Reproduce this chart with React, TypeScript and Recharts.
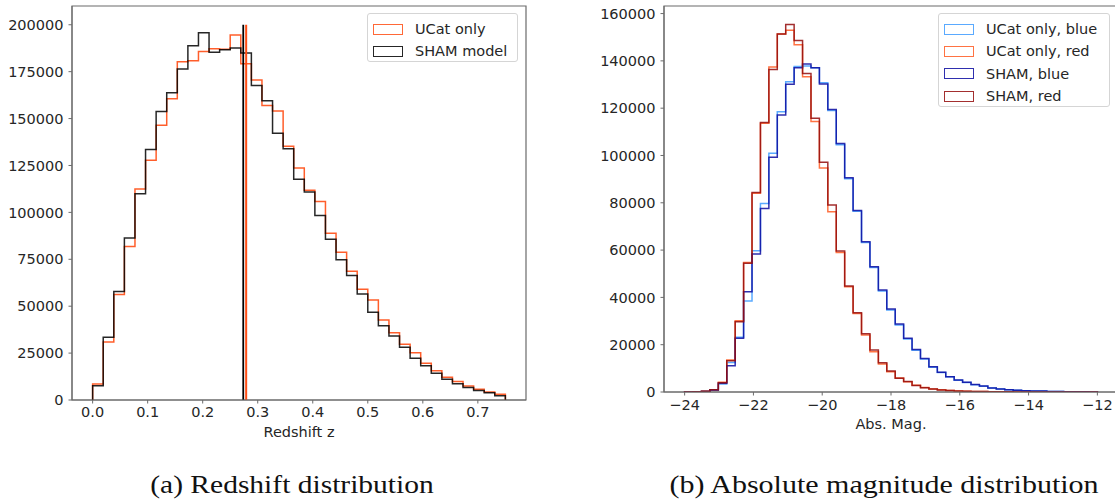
import React from 'react';
import { LineChart, Line, XAxis, YAxis, ReferenceArea } from 'recharts';

// redshift histogram: 39 bins over [0, 0.75]
const zRange = [0, 0.75];
const ucatZ = [8500, 30900, 56200, 81800, 112400, 127800, 146500, 160500, 180300, 180800, 185800, 187200, 187000, 194500, 179200, 170500, 157000, 154100, 135300, 123600, 111800, 105800, 88900, 78700, 68600, 59000, 53300, 42700, 35900, 29700, 25200, 19600, 15600, 12100, 9800, 7500, 5700, 4300, 3000];
const shamZ = [7600, 33400, 57800, 86400, 109900, 133500, 153800, 163700, 176400, 188800, 195700, 185400, 186700, 187600, 184900, 167600, 159500, 142200, 133900, 117700, 110900, 98300, 85700, 74700, 66300, 56500, 46800, 39600, 34100, 28100, 22200, 18300, 14200, 11000, 8700, 6600, 5000, 3900, 2300];
const shamMedian = 0.2737;
const ucatMedian = 0.279;
const medianTop = 200000;

// absolute magnitude histogram: 49 bins over [-24, -12]
const magRange = [-24, -12];
const ucatBlue = [40, 100, 280, 850, 3400, 12500, 23100, 38500, 59700, 79700, 100900, 118500, 131200, 137600, 137800, 137100, 130800, 119000, 104500, 90200, 76400, 63200, 52600, 42700, 34700, 28300, 22400, 17700, 14000, 10500, 8200, 6400, 5000, 4000, 3100, 2450, 1700, 1250, 970, 690, 550, 440, 390, 240, 170, 120, 90, 60, 40];
const ucatRed = [60, 150, 350, 1000, 4100, 13500, 30100, 54700, 84000, 113600, 137400, 151400, 152900, 146800, 133300, 114400, 94700, 76200, 59000, 44500, 33200, 24100, 17000, 11800, 8600, 5900, 4300, 2900, 1900, 1300, 900, 620, 430, 310, 220, 160, 120, 90, 70, 50, 40, 30, 25, 20, 15, 10, 8, 5, 3];
const shamBlue = [30, 80, 250, 800, 3700, 11100, 22700, 42400, 58300, 77600, 99200, 117100, 130100, 137100, 138700, 137100, 130200, 119400, 105100, 90600, 76700, 63500, 53000, 43100, 35100, 28700, 22700, 18000, 14200, 10700, 8300, 6500, 5100, 4100, 3200, 2500, 1700, 1270, 990, 700, 560, 450, 400, 250, 180, 130, 90, 60, 40];
const shamRed = [50, 120, 300, 900, 3900, 13200, 29700, 54400, 84400, 113900, 136400, 151400, 155400, 148600, 134700, 115700, 97100, 79100, 59600, 44800, 33500, 24600, 17800, 12400, 8900, 5800, 4400, 2700, 1800, 1300, 850, 600, 420, 300, 220, 160, 120, 90, 70, 50, 40, 30, 25, 20, 15, 10, 8, 5, 3];

const zTicks = [0, 0.1, 0.2, 0.3, 0.4, 0.5, 0.6, 0.7];
const zCountTicks = [0, 25000, 50000, 75000, 100000, 125000, 150000, 175000, 200000];
const magTicks = [-24, -22, -20, -18, -16, -14, -12];
const magCountTicks = [0, 20000, 40000, 60000, 80000, 100000, 120000, 140000, 160000];

// outline of a step histogram, like histtype='step'
function stepPoints(values: number[], range: number[]) {
  const w = (range[1] - range[0]) / values.length;
  const pts = [{ x: range[0], y: 0 }];
  values.forEach((v, i) => pts.push({ x: range[0] + i * w, y: v }));
  pts.push({ x: range[1], y: 0 });
  return pts;
}

const font = 'DejaVu Sans, sans-serif';
const tickStyle = { fontSize: 14.5, fill: '#262626', fontFamily: font };
const spine = '#6b6b6b';

const C = {
  ucatOrange: '#ff4d14',
  sham: '#000000',
  ucatBlue: '#3d9bff',
  ucatRed: '#ff5a22',
  shamBlue: '#0a0aa0',
  shamRed: '#930b0b',
};

const fmtMinus = (v: number) => (v < 0 ? '\u2212' + Math.abs(v) : String(v));

const Legend = ({ items, style }: { items: { label: string; color: string }[]; style: React.CSSProperties }) => (
  <div style={{
    position: 'absolute', border: '1px solid #d5d5d5', borderRadius: 3, background: 'rgba(255,255,255,0.85)',
    fontFamily: font, fontSize: 14.5, color: '#262626', padding: '4px 6px 3px 5px', boxSizing: 'border-box', ...style,
  }}>
    {items.map((it) => (
      <div key={it.label} style={{ display: 'flex', alignItems: 'center', height: 22.3 }}>
        <span style={{ display: 'inline-block', width: 28, height: 9, border: `1.5px solid ${it.color}`, marginRight: 12, opacity: 0.85 }} />
        <span>{it.label}</span>
      </div>
    ))}
  </div>
);

const caption: React.CSSProperties = {
  position: 'absolute', top: 471, fontFamily: 'Liberation Serif, serif', fontSize: 25, color: '#111', whiteSpace: 'nowrap',
};

export default function App() {
  const zDom = [-0.0375, 0.7875];
  const zMax = 210000;
  const mDom = [-24.6, -11.4];
  const mMax = 163200;
  return (
    <div style={{ position: 'absolute', left: 0, top: 0, width: 1115, height: 502, overflow: 'hidden', background: '#fff' }}>
      <div style={{ position: 'absolute', left: 0, top: 0 }}>
        <LineChart width={530} height={450} margin={{ top: 6, right: 4, left: 0, bottom: 0 }}>
          <XAxis type="number" dataKey="x" domain={zDom} ticks={zTicks} allowDataOverflow height={50}
            tickFormatter={(v: number) => v.toFixed(1)} tick={tickStyle} tickSize={3.5} tickMargin={3}
            stroke={spine} label={{ value: 'Redshift z', position: 'insideBottom', offset: 13, style: { ...tickStyle, fontSize: 14.5 } }} />
          <YAxis type="number" domain={[0, zMax]} ticks={zCountTicks} allowDataOverflow width={72}
            tick={tickStyle} tickSize={3.5} tickMargin={5} stroke={spine} />
          <ReferenceArea x1={zDom[0]} x2={zDom[1]} y1={0} y2={zMax} fill="none" stroke={spine} strokeWidth={1.2} />
          <Line data={stepPoints(ucatZ, zRange)} dataKey="y" type="stepAfter" stroke={C.ucatOrange} strokeOpacity={0.9} strokeWidth={1.5} dot={false} isAnimationActive={false} />
          <Line data={stepPoints(shamZ, zRange)} dataKey="y" type="stepAfter" stroke={C.sham} strokeOpacity={0.85} strokeWidth={1.5} dot={false} isAnimationActive={false} />
          <Line data={[{ x: ucatMedian, y: 0 }, { x: ucatMedian, y: medianTop }]} dataKey="y" type="linear" stroke={C.ucatOrange} strokeWidth={2} dot={false} isAnimationActive={false} />
          <Line data={[{ x: shamMedian, y: 0 }, { x: shamMedian, y: medianTop }]} dataKey="y" type="linear" stroke={C.sham} strokeWidth={1.8} dot={false} isAnimationActive={false} />
        </LineChart>
      </div>
      <Legend style={{ left: 367, top: 13, width: 151, height: 49 }} items={[
        { label: 'UCat only', color: C.ucatOrange },
        { label: 'SHAM model', color: C.sham },
      ]} />

      <div style={{ position: 'absolute', left: 580, top: 0 }}>
        <LineChart width={538} height={450} margin={{ top: 6, right: 0, left: 0, bottom: 0 }}>
          <XAxis type="number" dataKey="x" domain={mDom} ticks={magTicks} allowDataOverflow height={58}
            tickFormatter={fmtMinus} tick={tickStyle} tickSize={3.5} tickMargin={4}
            stroke={spine} label={{ value: 'Abs. Mag.', position: 'insideBottom', offset: 21, style: { ...tickStyle } }} />
          <YAxis type="number" domain={[0, mMax]} ticks={magCountTicks} allowDataOverflow width={84}
            tick={tickStyle} tickSize={3.5} tickMargin={5} stroke={spine} />
          <ReferenceArea x1={mDom[0]} x2={mDom[1]} y1={0} y2={mMax} fill="none" stroke={spine} strokeWidth={1.2} />
          <Line data={stepPoints(ucatBlue, magRange)} dataKey="y" type="stepAfter" stroke={C.ucatBlue} strokeOpacity={0.85} strokeWidth={1.5} dot={false} isAnimationActive={false} />
          <Line data={stepPoints(ucatRed, magRange)} dataKey="y" type="stepAfter" stroke={C.ucatRed} strokeOpacity={0.85} strokeWidth={1.5} dot={false} isAnimationActive={false} />
          <Line data={stepPoints(shamBlue, magRange)} dataKey="y" type="stepAfter" stroke={C.shamBlue} strokeOpacity={0.85} strokeWidth={1.5} dot={false} isAnimationActive={false} />
          <Line data={stepPoints(shamRed, magRange)} dataKey="y" type="stepAfter" stroke={C.shamRed} strokeOpacity={0.85} strokeWidth={1.5} dot={false} isAnimationActive={false} />
        </LineChart>
      </div>
      <Legend style={{ left: 938, top: 13, width: 172, height: 94 }} items={[
        { label: 'UCat only, blue', color: C.ucatBlue },
        { label: 'UCat only, red', color: C.ucatRed },
        { label: 'SHAM, blue', color: C.shamBlue },
        { label: 'SHAM, red', color: C.shamRed },
      ]} />

      <div style={{ ...caption, left: 292, transform: 'translateX(-50%) scaleX(1.18)' }}>(a) Redshift distribution</div>
      <div style={{ ...caption, left: 884, transform: 'translateX(-50%) scaleX(1.2)' }}>(b) Absolute magnitude distribution</div>
    </div>
  );
}
